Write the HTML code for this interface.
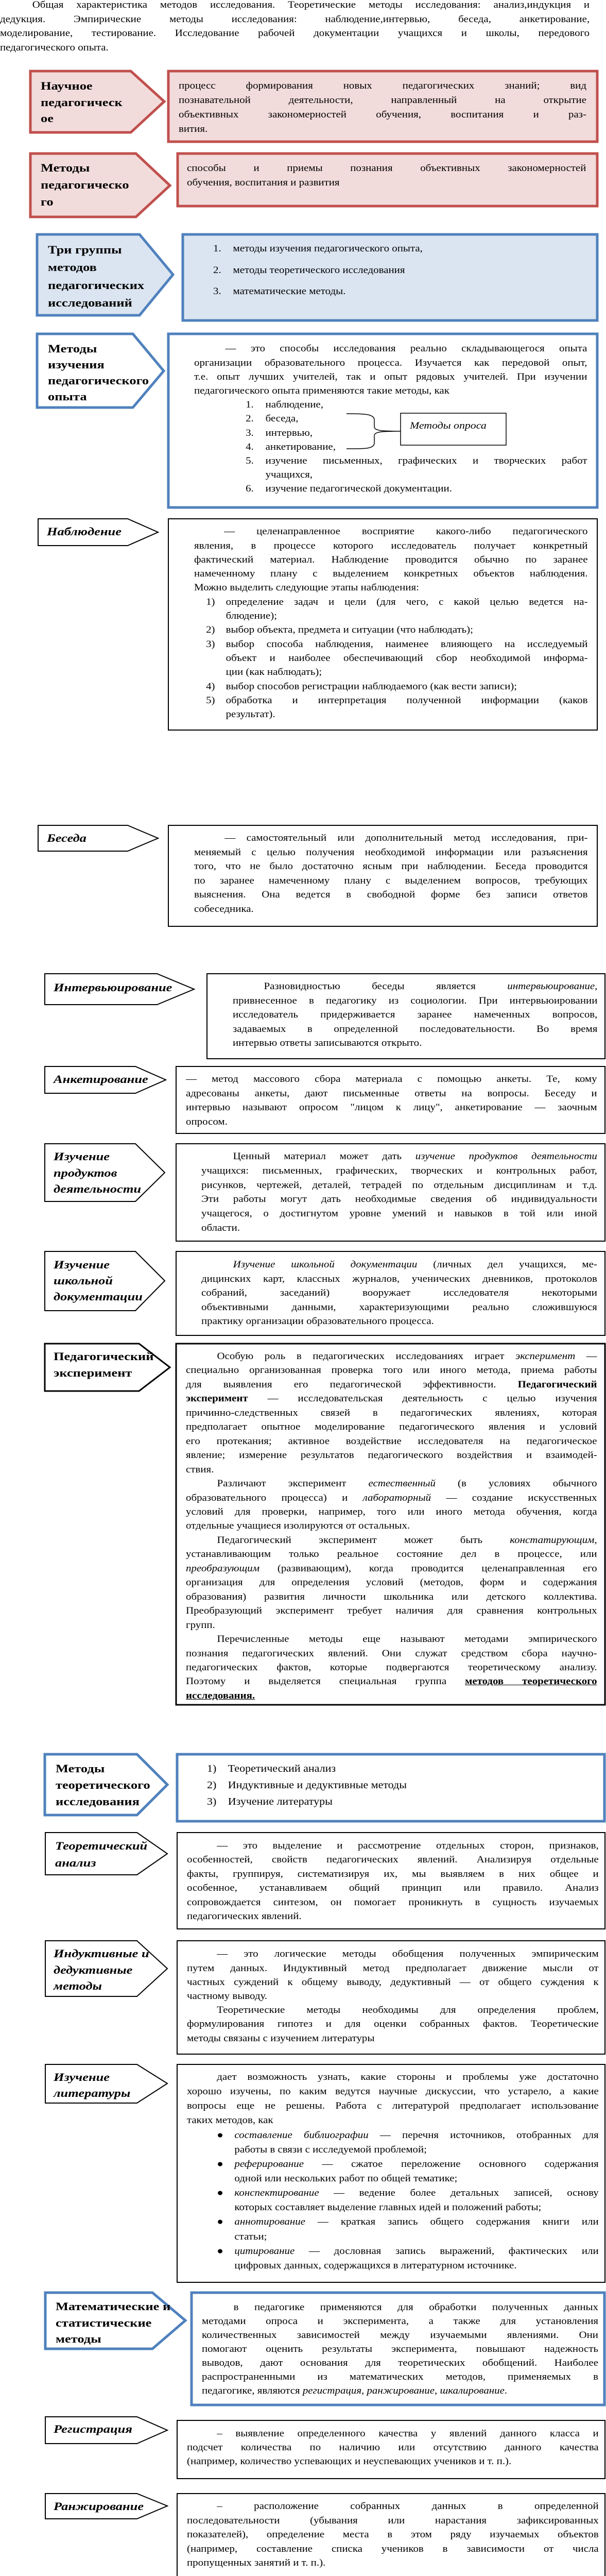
<!DOCTYPE html>
<html lang="ru"><head><meta charset="utf-8">
<style>
html{margin:0;padding:0;width:1177px;height:5192px;overflow:hidden;background:#fff}
body{margin:0;padding:0;width:1177px;height:5192px;position:relative;overflow:hidden;background:#fff}
svg.bg{position:absolute;left:0;top:0;display:block}
.tx{position:absolute;transform-origin:0 0;transform:scaleX(1.1);font-family:"Liberation Serif",serif;font-size:19px;color:#000}
.tx div{overflow:hidden;text-align:justify;text-align-last:justify}
.tx div.l{text-align-last:left}
.lb{position:absolute;transform-origin:0 0;transform:scaleX(1.2);font-family:"Liberation Serif",serif;font-size:22px;font-weight:bold;color:#000;white-space:nowrap}
.lb.i{font-style:italic}
.n{display:inline-block;text-indent:0}
</style></head><body>
<svg class="bg" width="1177" height="5192" viewBox="0 0 1177 5192">
<g stroke-linejoin="miter">
<polygon points="59,138 254,138 319,197 254,257 59,257" fill="#f2dcdb" stroke="#c0504d" stroke-width="5"/>
<rect x="327" y="138" width="833" height="137" fill="#f2dcdb" stroke="#c0504d" stroke-width="5"/>
<polygon points="59,298 264,298 330,360 264,421 59,421" fill="#f2dcdb" stroke="#c0504d" stroke-width="5"/>
<rect x="345" y="298" width="815" height="102" fill="#f2dcdb" stroke="#c0504d" stroke-width="5"/>
<polygon points="72,455 271,455 336,533 271,612 72,612" fill="#dbe5f1" stroke="#4f81bd" stroke-width="5"/>
<rect x="355" y="455" width="805" height="167" fill="#dbe5f1" stroke="#4f81bd" stroke-width="5"/>
<polygon points="72,648 258,648 318,720 258,791 72,791" fill="#fff" stroke="#4f81bd" stroke-width="5"/>
<rect x="327" y="648" width="833" height="337" fill="#fff" stroke="#4f81bd" stroke-width="5"/>
<polygon points="74,1007 248,1007 307,1033 248,1059 74,1059" fill="#fff" stroke="#000" stroke-width="2"/>
<rect x="327" y="1007" width="833" height="410" fill="#fff" stroke="#000" stroke-width="2"/>
<polygon points="74,1602 248,1602 307,1627 248,1652 74,1652" fill="#fff" stroke="#000" stroke-width="2"/>
<rect x="327" y="1602" width="833" height="196" fill="#fff" stroke="#000" stroke-width="2"/>
<polygon points="87,1890 305,1890 377,1920 305,1950 87,1950" fill="#fff" stroke="#000" stroke-width="2"/>
<rect x="402" y="1890" width="773" height="165" fill="#fff" stroke="#000" stroke-width="2"/>
<polygon points="87,2070 263,2070 322,2096 263,2122 87,2122" fill="#fff" stroke="#000" stroke-width="2"/>
<rect x="342" y="2070" width="833" height="130" fill="#fff" stroke="#000" stroke-width="2"/>
<polygon points="87,2220 263,2220 320,2276 263,2332 87,2332" fill="#fff" stroke="#000" stroke-width="2"/>
<rect x="342" y="2220" width="833" height="189" fill="#fff" stroke="#000" stroke-width="2"/>
<polygon points="87,2429 263,2429 320,2486 263,2544 87,2544" fill="#fff" stroke="#000" stroke-width="2"/>
<rect x="342" y="2429" width="833" height="163" fill="#fff" stroke="#000" stroke-width="2"/>
<polygon points="87,2608 270,2608 330,2654 270,2700 87,2700" fill="#fff" stroke="#000" stroke-width="3"/>
<rect x="342" y="2608" width="833" height="701" fill="#fff" stroke="#000" stroke-width="3"/>
<polygon points="87,3405 266,3405 325,3464 266,3523 87,3523" fill="#fff" stroke="#4f81bd" stroke-width="5"/>
<rect x="344" y="3405" width="830" height="130" fill="#fff" stroke="#4f81bd" stroke-width="5"/>
<polygon points="88,3557 266,3557 325,3598 266,3639 88,3639" fill="#fff" stroke="#000" stroke-width="2"/>
<rect x="344" y="3557" width="831" height="187" fill="#fff" stroke="#000" stroke-width="2"/>
<polygon points="88,3767 266,3767 325,3821 266,3875 88,3875" fill="#fff" stroke="#000" stroke-width="2"/>
<rect x="344" y="3767" width="831" height="220" fill="#fff" stroke="#000" stroke-width="2"/>
<polygon points="88,4007 266,4007 325,4044 266,4082 88,4082" fill="#fff" stroke="#000" stroke-width="2"/>
<rect x="344" y="4007" width="831" height="423" fill="#fff" stroke="#000" stroke-width="2"/>
<polygon points="88,4450 296,4450 360,4504 296,4559 88,4559" fill="#fff" stroke="#4f81bd" stroke-width="5"/>
<rect x="372" y="4450" width="802" height="218" fill="#fff" stroke="#4f81bd" stroke-width="5"/>
<polygon points="88,4691 266,4691 325,4717 266,4743 88,4743" fill="#fff" stroke="#000" stroke-width="2"/>
<rect x="344" y="4698" width="831" height="113" fill="#fff" stroke="#000" stroke-width="2"/>
<polygon points="88,4840 266,4840 325,4864 266,4889 88,4889" fill="#fff" stroke="#000" stroke-width="2"/>
<rect x="344" y="4840" width="831" height="165" fill="#fff" stroke="#000" stroke-width="2"/>
<polygon points="97,5108 273,5108 332,5131 273,5155 97,5155" fill="#fff" stroke="#000" stroke-width="2"/>
<rect x="354" y="5108" width="821" height="82" fill="#fff" stroke="#000" stroke-width="2"/>
<rect x="778" y="802" width="205" height="62" fill="#fff" stroke="#000" stroke-width="1.5"/>
<path d="M673,803 C705,803 727,803 727,815 L727,828 C727,836 740,837 778,837 C740,837 727,838 727,846 L727,860 C727,872 705,871 673,871" fill="none" stroke="#000" stroke-width="1.5"/>
</g>
</svg>

<div class="tx" style="left:796px;top:812px;font-style:italic;transform:scaleX(1.15)"><div class="l" style="line-height:30px">Методы опроса</div></div>

<div class="tx" style="left:0;top:-4px;width:1041px"><div style="height:27.7px;line-height:27.7px;text-indent:57px">Общая характеристика методов исследования. Теоретические методы исследования: анализ,индукция и</div><div style="height:27.7px;line-height:27.7px">дедукция. Эмпирические методы исследования: наблюдение,интервью, беседа, анкетирование,</div><div style="height:27.7px;line-height:27.7px">моделирование, тестирование. Исследование рабочей документации учащихся и школы, передового</div><div class="l" style="height:27.7px;line-height:27.7px">педагогического опыта.</div></div>

<div class="lb" style="left:79px;top:151px;line-height:31.5px">Научное<br>педагогическ<br>ое</div>
<div class="lb" style="left:79px;top:309px;line-height:33px">Методы<br>педагогическо<br>го</div>
<div class="lb" style="left:93px;top:468px;line-height:34.3px">Три группы<br>методов<br>педагогических<br>исследований</div>
<div class="lb" style="left:93px;top:661px;line-height:31px">Методы<br>изучения<br>педагогического<br>опыта</div>
<div class="lb i" style="left:91px;top:1017px;line-height:30px">Наблюдение</div>
<div class="lb i" style="left:91px;top:1612px;line-height:30px">Беседа</div>
<div class="lb i" style="left:104px;top:1902px;line-height:30px">Интервьюирование</div>
<div class="lb i" style="left:104px;top:2080px;line-height:30px">Анкетирование</div>
<div class="lb i" style="left:104px;top:2229px;line-height:31.5px">Изучение<br>продуктов<br>деятельности</div>
<div class="lb i" style="left:104px;top:2439px;line-height:31px">Изучение<br>школьной<br>документации</div>
<div class="lb" style="left:104px;top:2617px;line-height:32px">Педагогический<br>эксперимент</div>
<div class="lb" style="left:108px;top:3417px;line-height:32px">Методы<br>теоретического<br>исследования</div>
<div class="lb i" style="left:107px;top:3566px;line-height:33px">Теоретический<br>анализ</div>
<div class="lb i" style="left:104px;top:3776px;line-height:31.5px">Индуктивные и<br>дедуктивные<br>методы</div>
<div class="lb i" style="left:104px;top:4016px;line-height:31px">Изучение<br>литературы</div>
<div class="lb" style="left:108px;top:4461px;line-height:31.5px">Математические и<br>статистические<br>методы</div>
<div class="lb i" style="left:104px;top:4700px;line-height:30px">Регистрация</div>
<div class="lb i" style="left:104px;top:4850px;line-height:30px">Ранжирование</div>
<div class="lb i" style="left:114px;top:5117px;line-height:30px">Шкалирование</div>

<div class="tx" style="left:347px;top:153px;width:720px;line-height:28px"><div style="height:28px">процесс формирования новых педагогических знаний; вид</div><div style="height:28px">познавательной деятельности, направленный на открытие</div><div style="height:28px">объективных закономерностей обучения, воспитания и раз-</div><div class="l" style="height:28px">вития.</div></div>
<div class="tx" style="left:363px;top:313px;width:705px;line-height:28px"><div style="height:28px">способы и приемы познания объективных закономерностей</div><div class="l" style="height:28px">обучения, воспитания и развития</div></div>
<div class="tx" style="left:414px;top:462px;width:640px;line-height:41.5px"><div class="l" style="height:41.5px"><span class="n" style="width:35px">1.</span>методы изучения педагогического опыта,</div><div class="l" style="height:41.5px"><span class="n" style="width:35px">2.</span>методы теоретического исследования</div><div class="l" style="height:41.5px"><span class="n" style="width:35px">3.</span>математические методы.</div></div>
<div class="tx" style="left:377px;top:663.4px;width:694px;line-height:27.2px">
<div style="height:27.2px;text-indent:55px">— это способы исследования реально складывающегося опыта</div>
<div style="height:27.2px">организации образовательного процесса. Изучается как передовой опыт,</div>
<div style="height:27.2px">т.е. опыт лучших учителей, так и опыт рядовых учителей. При изучении</div>
<div class="l" style="height:27.2px">педагогического опыта применяются такие методы, как</div>
<div class="l" style="height:27.2px;padding-left:91px"><span class="n" style="width:35px">1.</span>наблюдение,</div>
<div class="l" style="height:27.2px;padding-left:91px"><span class="n" style="width:35px">2.</span>беседа,</div>
<div class="l" style="height:27.2px;padding-left:91px"><span class="n" style="width:35px">3.</span>интервью,</div>
<div class="l" style="height:27.2px;padding-left:91px"><span class="n" style="width:35px">4.</span>анкетирование,</div>
<div style="height:27.2px;padding-left:91px"><span class="n" style="width:35px">5.</span>изучение письменных, графических и творческих работ</div>
<div class="l" style="height:27.2px;padding-left:126px">учащихся,</div>
<div class="l" style="height:27.2px;padding-left:91px"><span class="n" style="width:35px">6.</span>изучение педагогической документации.</div>
</div>
<div class="tx" style="left:377px;top:1018.3px;width:695px;line-height:27.3px">
<div style="height:27.3px;text-indent:53px">— целенаправленное восприятие какого-либо педагогического</div>
<div style="height:27.3px">явления, в процессе которого исследователь получает конкретный</div>
<div style="height:27.3px">фактический материал. Наблюдение проводится обычно по заранее</div>
<div style="height:27.3px">намеченному плану с выделением конкретных объектов наблюдения.</div>
<div class="l" style="height:27.3px">Можно выделить следующие этапы наблюдения:</div>
<div style="height:27.3px;padding-left:56px;text-indent:-35px"><span class="n" style="width:35px">1)</span>определение задач и цели (для чего, с какой целью ведется на-</div>
<div class="l" style="height:27.3px;padding-left:56px">блюдение);</div>
<div class="l" style="height:27.3px;padding-left:56px;text-indent:-35px"><span class="n" style="width:35px">2)</span>выбор объекта, предмета и ситуации (что наблюдать);</div>
<div style="height:27.3px;padding-left:56px;text-indent:-35px"><span class="n" style="width:35px">3)</span>выбор способа наблюдения, наименее влияющего на исследуемый</div>
<div style="height:27.3px;padding-left:56px">объект и наиболее обеспечивающий сбор необходимой информа-</div>
<div class="l" style="height:27.3px;padding-left:56px">ции (как наблюдать);</div>
<div class="l" style="height:27.3px;padding-left:56px;text-indent:-35px"><span class="n" style="width:35px">4)</span>выбор способов регистрации наблюдаемого (как вести записи);</div>
<div style="height:27.3px;padding-left:56px;text-indent:-35px"><span class="n" style="width:35px">5)</span>обработка и интерпретация полученной информации (каков</div>
<div class="l" style="height:27.3px;padding-left:56px">результат).</div>
</div>
<div class="tx" style="left:377px;top:1613px;width:695px;line-height:27.6px">
<div style="height:27.6px;text-indent:54px">— самостоятельный или дополнительный метод исследования, при-</div>
<div style="height:27.6px">меняемый с целью получения необходимой информации или разъяснения</div>
<div style="height:27.6px">того, что не было достаточно ясным при наблюдении. Беседа проводится</div>
<div style="height:27.6px">по заранее намеченному плану с выделением вопросов, требующих</div>
<div style="height:27.6px">выяснения. Она ведется в свободной форме без записи ответов</div>
<div class="l" style="height:27.6px">собеседника.</div>
</div>
<div class="tx" style="left:452px;top:1901px;width:644px;line-height:27.5px">
<div style="height:27.5px;text-indent:55px">Разновидностью беседы является <i>интервьюирование</i>,</div>
<div style="height:27.5px">привнесенное в педагогику из социологии. При интервьюировании</div>
<div style="height:27.5px">исследователь придерживается заранее намеченных вопросов,</div>
<div style="height:27.5px">задаваемых в определенной последовательности. Во время</div>
<div class="l" style="height:27.5px">интервью ответы записываются открыто.</div>
</div>
<div class="tx" style="left:361px;top:2081px;width:726px;line-height:27.7px">
<div style="height:27.7px">— метод массового сбора материала с помощью анкеты. Те, кому</div>
<div style="height:27.7px">адресованы анкеты, дают письменные ответы на вопросы. Беседу и</div>
<div style="height:27.7px">интервью называют опросом "лицом к лицу", анкетирование — заочным</div>
<div class="l" style="height:27.7px">опросом.</div>
</div>
<div class="tx" style="left:391px;top:2231px;width:699px;line-height:27.8px">
<div style="height:27.8px;text-indent:56px">Ценный материал может дать <i>изучение продуктов деятельности</i></div>
<div style="height:27.8px">учащихся: письменных, графических, творческих и контрольных работ,</div>
<div style="height:27.8px">рисунков, чертежей, деталей, тетрадей по отдельным дисциплинам и т.д.</div>
<div style="height:27.8px">Эти работы могут дать необходимые сведения об индивидуальности</div>
<div style="height:27.8px">учащегося, о достигнутом уровне умений и навыков в той или иной</div>
<div class="l" style="height:27.8px">области.</div>
</div>
<div class="tx" style="left:391px;top:2441px;width:699px;line-height:27.5px">
<div style="height:27.5px;text-indent:56px"><i>Изучение школьной документации</i> (личных дел учащихся, ме-</div>
<div style="height:27.5px">дицинских карт, классных журналов, ученических дневников, протоколов</div>
<div style="height:27.5px">собраний, заседаний) вооружает исследователя некоторыми</div>
<div style="height:27.5px">объективными данными, характеризующими реально сложившуюся</div>
<div class="l" style="height:27.5px">практику организации образовательного процесса.</div>
</div>
<div class="tx" style="left:361px;top:2619px;width:726px;line-height:27.46px">
<div style="height:27.46px;text-indent:55px">Особую роль в педагогических исследованиях играет <i>эксперимент</i> —</div>
<div style="height:27.46px">специально организованная проверка того или иного метода, приема работы</div>
<div style="height:27.46px">для выявления его педагогической эффективности. <b>Педагогический</b></div>
<div style="height:27.46px"><b>эксперимент</b> — исследовательская деятельность с целью изучения</div>
<div style="height:27.46px">причинно-следственных связей в педагогических явлениях, которая</div>
<div style="height:27.46px">предполагает опытное моделирование педагогического явления и условий</div>
<div style="height:27.46px">его протекания; активное воздействие исследователя на педагогическое</div>
<div style="height:27.46px">явление; измерение результатов педагогического воздействия и взаимодей-</div>
<div class="l" style="height:27.46px">ствия.</div>
<div style="height:27.46px;text-indent:55px">Различают эксперимент <i>естественный</i> (в условиях обычного</div>
<div style="height:27.46px">образовательного процесса) и <i>лабораторный</i> — создание искусственных</div>
<div style="height:27.46px">условий для проверки, например, того или иного метода обучения, когда</div>
<div class="l" style="height:27.46px">отдельные учащиеся изолируются от остальных.</div>
<div style="height:27.46px;text-indent:55px">Педагогический эксперимент может быть <i>констатирующим</i>,</div>
<div style="height:27.46px">устанавливающим только реальное состояние дел в процессе, или</div>
<div style="height:27.46px"><i>преобразующим</i> (развивающим), когда проводится целенаправленная его</div>
<div style="height:27.46px">организация для определения условий (методов, форм и содержания</div>
<div style="height:27.46px">образования) развития личности школьника или детского коллектива.</div>
<div style="height:27.46px">Преобразующий эксперимент требует наличия для сравнения контрольных</div>
<div class="l" style="height:27.46px">групп.</div>
<div style="height:27.46px;text-indent:55px">Перечисленные методы еще называют методами эмпирического</div>
<div style="height:27.46px">познания педагогических явлений. Они служат средством сбора научно-</div>
<div style="height:27.46px">педагогических фактов, которые подвергаются теоретическому анализу.</div>
<div style="height:27.46px">Поэтому и выделяется специальная группа <b><u>методов теоретического</u></b></div>
<div class="l" style="height:27.46px"><b><u>исследования.</u></b></div>
</div>
<div class="tx" style="left:402px;top:3417px;width:640px;line-height:32px;font-size:20px">
<div class="l" style="height:32px"><span class="n" style="width:37px">1)</span>Теоретический анализ</div>
<div class="l" style="height:32px"><span class="n" style="width:37px">2)</span>Индуктивные и дедуктивные методы</div>
<div class="l" style="height:32px"><span class="n" style="width:37px">3)</span>Изучение литературы</div>
</div>
<div class="tx" style="left:363px;top:3569px;width:727px;line-height:27.4px">
<div style="height:27.4px;text-indent:53px">— это выделение и рассмотрение отдельных сторон, признаков,</div>
<div style="height:27.4px">особенностей, свойств педагогических явлений. Анализируя отдельные</div>
<div style="height:27.4px">факты, группируя, систематизируя их, мы выявляем в них общее и</div>
<div style="height:27.4px">особенное, устанавливаем общий принцип или правило. Анализ</div>
<div style="height:27.4px">сопровождается синтезом, он помогает проникнуть в сущность изучаемых</div>
<div class="l" style="height:27.4px">педагогических явлений.</div>
</div>
<div class="tx" style="left:363px;top:3779.4px;width:727px;line-height:27.2px">
<div style="height:27.2px;text-indent:53px">— это логические методы обобщения полученных эмпирическим</div>
<div style="height:27.2px">путем данных. Индуктивный метод предполагает движение мысли от</div>
<div style="height:27.2px">частных суждений к общему выводу, дедуктивный — от общего суждения к</div>
<div class="l" style="height:27.2px">частному выводу.</div>
<div style="height:27.2px;text-indent:53px">Теоретические методы необходимы для определения проблем,</div>
<div style="height:27.2px">формулирования гипотез и для оценки собранных фактов. Теоретические</div>
<div class="l" style="height:27.2px">методы связаны с изучением литературы</div>
</div>
<div class="tx" style="left:363px;top:4018px;width:727px;line-height:28.15px">
<div style="height:28.15px;text-indent:53px">дает возможность узнать, какие стороны и проблемы уже достаточно</div>
<div style="height:28.15px">хорошо изучены, по каким ведутся научные дискуссии, что устарело, а какие</div>
<div style="height:28.15px">вопросы еще не решены. Работа с литературой предполагает использование</div>
<div class="l" style="height:28.15px">таких методов, как</div>
<div style="height:28.15px;padding-left:84px;text-indent:-31px"><span class="n" style="width:31px">●</span><i>составление библиографии</i> — перечня источников, отобранных для</div>
<div class="l" style="height:28.15px;padding-left:84px">работы в связи с исследуемой проблемой;</div>
<div style="height:28.15px;padding-left:84px;text-indent:-31px"><span class="n" style="width:31px">●</span><i>реферирование</i> — сжатое переложение основного содержания</div>
<div class="l" style="height:28.15px;padding-left:84px">одной или нескольких работ по общей тематике;</div>
<div style="height:28.15px;padding-left:84px;text-indent:-31px"><span class="n" style="width:31px">●</span><i>конспектирование</i> — ведение более детальных записей, основу</div>
<div class="l" style="height:28.15px;padding-left:84px">которых составляет выделение главных идей и положений работы;</div>
<div style="height:28.15px;padding-left:84px;text-indent:-31px"><span class="n" style="width:31px">●</span><i>аннотирование</i> — краткая запись общего содержания книги или</div>
<div class="l" style="height:28.15px;padding-left:84px">статьи;</div>
<div style="height:28.15px;padding-left:84px;text-indent:-31px"><span class="n" style="width:31px">●</span><i>цитирование</i> — дословная запись выражений, фактических или</div>
<div class="l" style="height:28.15px;padding-left:84px">цифровых данных, содержащихся в литературном источнике.</div>
</div>
<div class="tx" style="left:392px;top:4464.5px;width:700px;line-height:27px">
<div style="height:27px;text-indent:56px">в педагогике применяются для обработки полученных данных</div>
<div style="height:27px">методами опроса и эксперимента, а также для установления</div>
<div style="height:27px">количественных зависимостей между изучаемыми явлениями. Они</div>
<div style="height:27px">помогают оценить результаты эксперимента, повышают надежность</div>
<div style="height:27px">выводов, дают основания для теоретических обобщений. Наиболее</div>
<div style="height:27px">распространенными из математических методов, применяемых в</div>
<div class="l" style="height:27px">педагогике, являются <i>регистрация, ранжирование, шкалирование</i>.</div>
</div>
<div class="tx" style="left:363px;top:4709.5px;width:727px;line-height:27px">
<div style="height:27px;text-indent:53px">– выявление определенного качества у явлений данного класса и</div>
<div style="height:27px">подсчет количества по наличию или отсутствию данного качества</div>
<div class="l" style="height:27px">(например, количество успевающих и неуспевающих учеников и т. п.).</div>
</div>
<div class="tx" style="left:363px;top:4851px;width:727px;line-height:27.5px">
<div style="height:27.5px;text-indent:53px">– расположение собранных данных в определенной</div>
<div style="height:27.5px">последовательности (убывания или нарастания зафиксированных</div>
<div style="height:27.5px">показателей), определение места в этом ряду изучаемых объектов</div>
<div style="height:27.5px">(например, составление списка учеников в зависимости от числа</div>
<div class="l" style="height:27.5px">пропущенных занятий и т. п.).</div>
</div>
<div class="tx" style="left:371px;top:5119.5px;width:724px;line-height:27px">
<div style="height:27px;text-indent:49px">– присвоение баллов или других цифровых показателей исследуемым</div>
<div class="l" style="height:27px">характеристикам.</div>
</div>
</body></html>
